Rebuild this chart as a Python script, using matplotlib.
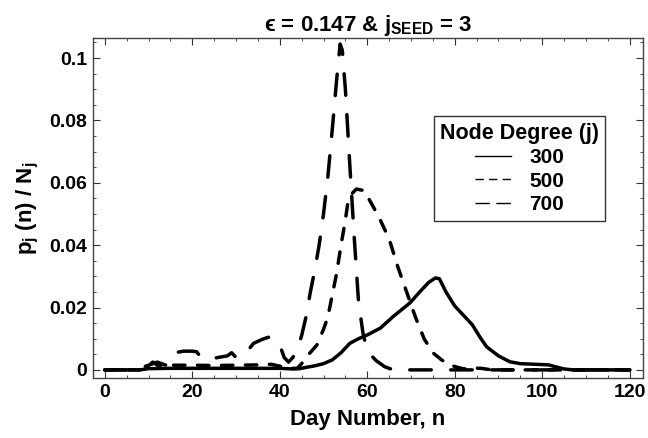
import matplotlib
matplotlib.use("Agg")
import matplotlib.pyplot as plt
from matplotlib.lines import Line2D
from matplotlib.ticker import MultipleLocator

plt.rcParams['font.family'] = ['Liberation Sans', 'DejaVu Sans']
plt.rcParams['font.weight'] = 'bold'
plt.rcParams['mathtext.fontset'] = 'custom'
plt.rcParams['mathtext.rm'] = 'Liberation Sans:bold'
plt.rcParams['mathtext.bf'] = 'Liberation Sans:bold'
plt.rcParams['mathtext.it'] = 'Liberation Sans:bold'

# node degree j = 300 (solid)
n_300 = [0, 8, 10, 15, 20, 30, 40, 43, 44.6, 46, 48, 50, 52, 54, 56, 58, 60, 63, 66,
         69.7, 72, 74, 75.6, 76.5, 78, 80, 82, 84, 86, 87.3, 90, 92.6, 95, 100, 101.5,
         103, 105, 107, 120]
p_300 = [0, 0, 0.0004, 0.0005, 0.0005, 0.0005, 0.0005, 0.0003, 0.0004, 0.0008, 0.0013,
         0.002, 0.0032, 0.0055, 0.0085, 0.010, 0.0112, 0.0134, 0.0172, 0.0214, 0.025,
         0.028, 0.0295, 0.0292, 0.025, 0.0205, 0.0175, 0.0145, 0.010, 0.0074, 0.0045,
         0.0026, 0.002, 0.0017, 0.0016, 0.001, 0.0003, 0, 0]

# node degree j = 500 (short dash)
n_500 = [0, 8, 10, 11, 12, 15, 20, 25, 30, 35, 38, 40, 42, 44, 45, 46, 48.5, 50, 51, 52,
         53, 54, 55, 55.5, 56.5, 57.5, 59.3, 60.5, 61.5, 63, 65, 67, 69, 71, 73, 75, 77,
         79, 82, 84, 86, 88, 90, 120]
p_500 = [0, 0, 0.0015, 0.0025, 0.0015, 0.0015, 0.0015, 0.0014, 0.0015, 0.0016, 0.0018,
         0.0012, 0.0005, 0.0005, 0.002, 0.004, 0.008, 0.013, 0.017, 0.024, 0.031, 0.040,
         0.048, 0.053, 0.0565, 0.058, 0.0575, 0.0545, 0.052, 0.048, 0.042, 0.033, 0.025,
         0.017, 0.010, 0.0055, 0.0032, 0.0015, 0.0003, 0.0006, 0.0005, 0.0001, 0, 0]

# node degree j = 700 (long dash)
n_700 = [0, 5, 8, 10, 12, 13, 14, 15, 16, 18, 20, 21, 22, 24, 26, 28, 29, 30, 32, 34,
         36, 37.5, 39, 40, 41, 42, 43, 44, 45, 46, 47, 48, 49, 50, 51, 52, 53, 53.8,
         54.3, 55, 56, 57, 58, 59, 60, 62, 64, 66, 120]
p_700 = [0, 0, 0.0005, 0.0015, 0.0025, 0.002, 0.0015, 0.003, 0.0055, 0.006, 0.006,
         0.0058, 0.004, 0.0035, 0.004, 0.0045, 0.0055, 0.004, 0.005, 0.0085, 0.0098,
         0.0105, 0.0095, 0.008, 0.004, 0.0025, 0.004, 0.0065, 0.011, 0.017, 0.025,
         0.032, 0.040, 0.050, 0.062, 0.077, 0.093, 0.1045, 0.1025, 0.090, 0.066, 0.043,
         0.022, 0.012, 0.006, 0.003, 0.001, 0, 0]

labels = ['300', '500', '700']

fig = plt.figure(figsize=(6.48, 4.38), dpi=100)
ax = fig.add_axes([0.1435, 0.137, 0.8485, 0.776])

lw = 2.5
ax.plot(n_300, p_300, color='black', lw=lw, solid_capstyle='round')
ax.plot(n_500, p_500, color='black', lw=lw, dashes=(3.3, 3.6), dash_capstyle='round')
ax.plot(n_700, p_700, color='black', lw=lw, dashes=(6.2, 5.6), dash_capstyle='round')

ax.set_xlim(-2.7, 123)
ax.set_ylim(-0.0026, 0.1064)
ax.xaxis.set_major_locator(MultipleLocator(20))
ax.xaxis.set_minor_locator(MultipleLocator(5))
ax.yaxis.set_minor_locator(MultipleLocator(0.005))
ax.set_yticks([0, 0.02, 0.04, 0.06, 0.08, 0.1])
ax.set_yticklabels(['0', '0.02', '0.04', '0.06', '0.08', '0.1'])
ax.tick_params(which='both', direction='in', top=True, right=True, labelsize=14,
               color='#333333')
ax.tick_params(which='major', length=5, width=0.8, pad=4)
ax.tick_params(which='minor', length=2.5, width=0.6)
for s in ax.spines.values():
    s.set_color('#444444')
    s.set_linewidth(1.0)

ax.set_xlabel('Day Number, n', fontsize=16, fontweight='bold', labelpad=6)
ax.set_ylabel(r'$\mathbf{p_j}$ (n) / $\mathbf{N_j}$', fontsize=16, fontweight='bold',
              labelpad=6)
ax.set_title(r'ϵ = 0.147 & $\mathbf{j_{SEED}}$ = 3', fontsize=16, fontweight='bold',
             pad=5)

# legend samples are drawn thin, as in the reference
handles = [Line2D([], [], color='black', lw=1.0),
           Line2D([], [], color='black', lw=1.0, dashes=(6, 3.75)),
           Line2D([], [], color='black', lw=1.0, dashes=(10.5, 4.5))]
leg = ax.legend(handles, labels, title='Node Degree (j)', loc='upper left',
                bbox_to_anchor=(0.62, 0.77), borderaxespad=0, fancybox=False,
                frameon=True, edgecolor='black', fontsize=15, title_fontsize=15.5,
                handlelength=1.7, handletextpad=0.9, labelspacing=0.22,
                borderpad=0.3)
leg.get_title().set_fontweight('bold')
leg.get_frame().set_linewidth(1.0)

fig.savefig('out.png', dpi=100)
